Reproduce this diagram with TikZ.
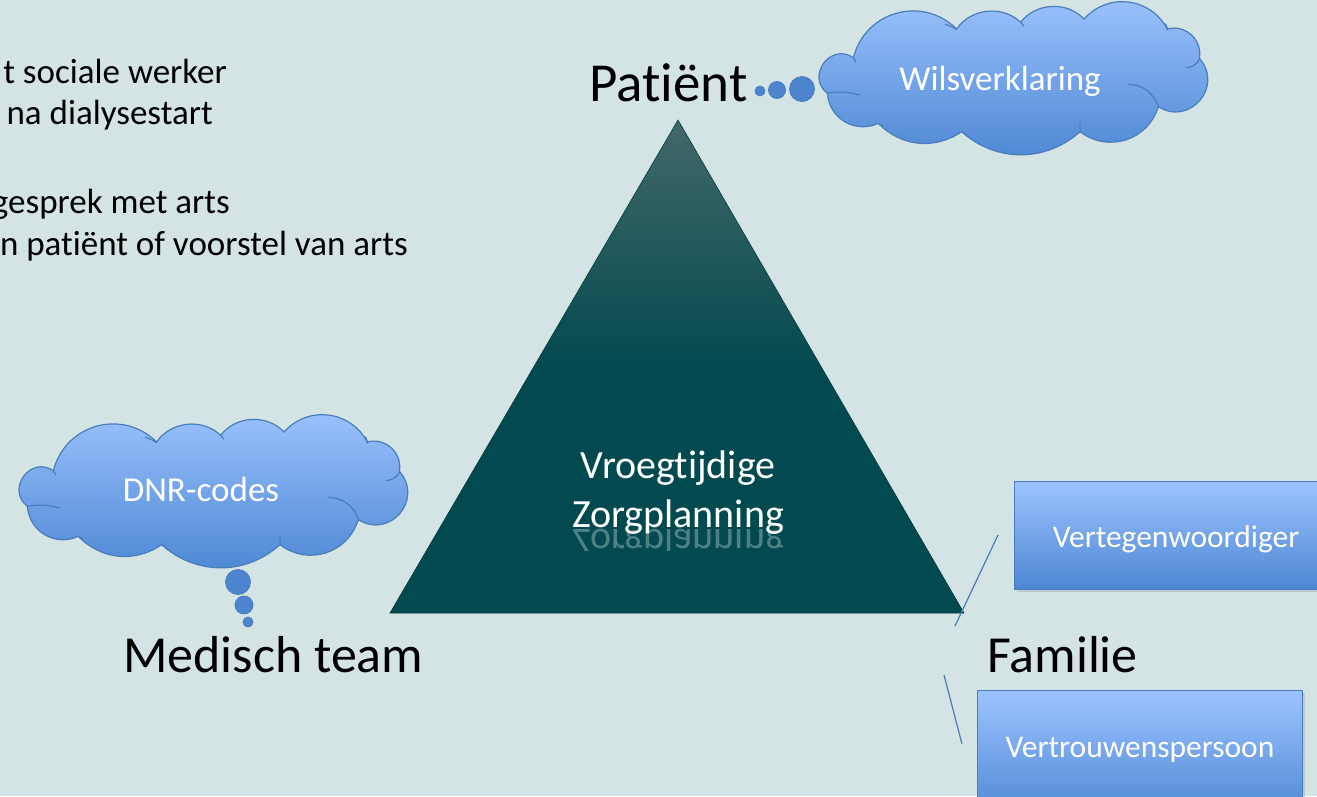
\documentclass[tikz,border=0pt]{standalone}
\usepackage{fontspec}
\setmainfont{Carlito}[Ligatures={NoCommon,NoContextual,NoRequired},Contextuals=NoAlternate]
\usetikzlibrary{shadows}
\newcommand\tI{t\kern0pt i}
\definecolor{bg}{HTML}{D4E3E3}
\definecolor{triTop}{HTML}{436868}
\definecolor{triBot}{HTML}{034A50}
\definecolor{cTop}{HTML}{9DC3FF}
\definecolor{cBot}{HTML}{4C86D2}
\definecolor{cLine}{HTML}{4A7EBB}
\definecolor{dotFill}{HTML}{4D84D0}
\tikzset{
  bigtxt/.style={font=\fontsize{52}{60}\selectfont, text=black, inner sep=0},
  lefttxt/.style={font=\fontsize{35}{42}\selectfont, text=black, inner sep=0, anchor=base east},
  wtxt/.style={font=\fontsize{35}{42}\selectfont, text=white, inner sep=0, anchor=base},
  ztxt/.style={font=\fontsize{40}{48}\selectfont, text=white, inner sep=0, anchor=base},
  btxt/.style={font=\fontsize{31.5}{38}\selectfont, text=white, inner sep=0, anchor=base},
  cloudfill/.style={top color=cTop, bottom color=cBot, draw=cLine, line width=1.2pt},
  cloudinner/.style={draw=cLine, line width=1.2pt},
  rectbox/.style={rectangle, draw=cLine, line width=1pt, top color=cTop, bottom color=cBot, inner sep=0, drop shadow={opacity=0.25, shadow xshift=2pt, shadow yshift=-2pt}},
  dot/.style={circle, draw=cLine, line width=0.8pt, fill=dotFill, inner sep=0},
  thinline/.style={draw=cLine, line width=1.2pt}
}
\newcommand\puffcloud[1]{%
\begin{scope}[shift={#1}, scale=1/3]
\shade[cloudfill]
 (130,158) to[bend left=60, looseness=1.15] (440,72) to[bend left=50] (632,52)
 to[bend left=50] (822,42) to[bend left=55, looseness=1.1] (1072,72)
 to[bend left=58, looseness=1.1] (1168,160) to[bend left=82, looseness=1.5] (1045,305)
 to[bend left=55, looseness=1.1] (810,380) to[bend left=42] (455,380)
 to[bend left=40] (205,355) to[bend left=55, looseness=1.1] (52,265)
 to[bend left=88, looseness=1.6] (130,158) -- cycle;
\draw[cloudinner] (955,238) to[bend left=35] (1045,305);
\draw[cloudinner] (1128,188) to[bend right=30] (1170,160);
\draw[cloudinner] (52,265) to[bend left=12] (150,270);
\draw[cloudinner] (405,58) to[bend left=10] (440,74);
\draw[cloudinner] (632,52) to[bend left=20] (642,64);
\draw[cloudinner] (1066,56) to[bend left=15] (1072,76);
\draw[cloudinner] (810,352) to[bend right=10] (812,380);
\draw[cloudinner] (455,380) to[bend left=15] (472,394);
\draw[cloudinner] (205,355) to[bend left=15] (220,363);
\draw[cloudinner] (130,158) to[bend left=15] (138,172);
\end{scope}}
\begin{document}
\begin{tikzpicture}[x=1pt,y=-1pt]
\fill[bg] (0,0) rectangle (1317,796);
\useasboundingbox (0,0) rectangle (1317,796);

% left text
\node[lefttxt] (l1) at (227,83) {t sociale werker};
\node[lefttxt] (l2) at (213,124) {na dialysestart};
\node[lefttxt] (l3) at (230,213) {gesprek met arts};
\node[lefttxt] (l4) at (408,255) {n pa\tI ënt of voorstel van arts};

% triangle
\coordinate (apex) at (678,120);
\coordinate (bl) at (390,613);
\coordinate (br) at (964,613);
\shade[top color=triTop, bottom color=triBot, middle color=triBot, draw=triBot!80!black, line width=0.6pt] (apex) -- (br) -- (bl) -- cycle;

\node[ztxt] (vroeg) at (678,478) {Vroeg\tI jdige};
\node[ztxt] (zorg) at (678,527) {Zorgplanning};
\begin{scope}
\clip (540,528) rectangle (820,550);
\node[ztxt, transform shape, yscale=-1, opacity=0.3] (zorgr) at (678,529) {Zorgplanning};
\end{scope}

% Patient
\node[bigtxt, anchor=base west, font=\fontsize{55}{64}\selectfont] (pat) at (589,101) {Pa\tI ënt};
\node[dot, minimum size=10] (pd1) at (760,91) {};
\node[dot, minimum size=17] (pd2) at (777,90) {};
\node[dot, minimum size=25] (pd3) at (802,89) {};
\puffcloud{(810,5)}
\node[wtxt] (wils) at (1000,90) {Wilsverklaring};

% Medisch team
\puffcloud{(10,418)}
\node[wtxt] (dnr) at (201,501) {DNR-codes};
\node[dot, minimum size=25] (dd1) at (238,582) {};
\node[dot, minimum size=18] (dd2) at (244,605) {};
\node[dot, minimum size=10] (dd3) at (248,622) {};
\node[bigtxt, anchor=base west] (med) at (123,672) {Medisch team};

% Familie
\node[bigtxt, anchor=base west] (fam) at (987,672) {Familie};
\node[rectbox, minimum width=330, minimum height=108, anchor=north west] (vert) at (1014,481) {};
\node[btxt] (verttxt) at (1176,547) {Vertegenwoordiger};
\node[rectbox, minimum width=325, minimum height=130, anchor=north west] (vtr) at (977,690) {};
\node[btxt] (vtrtxt) at (1140,757) {Vertrouwenspersoon};

\coordinate (a1) at (955,626);
\coordinate (a2) at (998,535);
\coordinate (b1) at (944,675);
\coordinate (b2) at (962,744);
\draw[thinline] (a1) -- (a2);
\draw[thinline] (b1) -- (b2);
\end{tikzpicture}
\end{document}
